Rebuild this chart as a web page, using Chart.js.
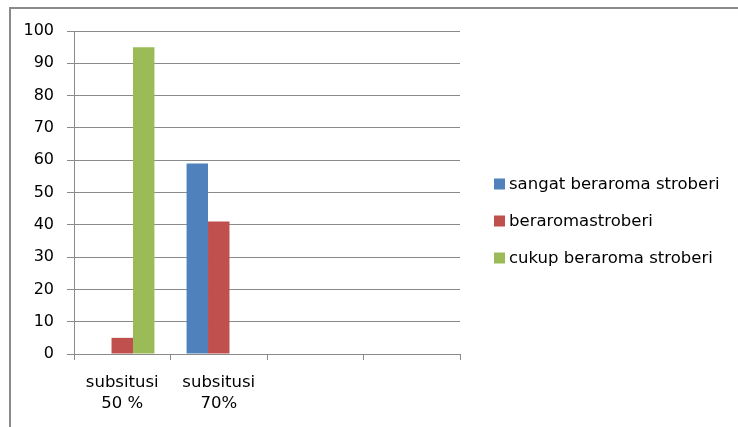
<!DOCTYPE html>
<html>
<head>
<meta charset="utf-8">
<script src="https://cdn.jsdelivr.net/npm/chart.js@4"></script>
<style>
  html, body { margin: 0; padding: 0; background: #fff; }
  #wrap { position: relative; width: 738px; height: 427px; overflow: hidden; }
  #frame { position: absolute; left: 9px; top: 7px; width: 740px; height: 430px;
           border-left: 2px solid #8a8a8a; border-top: 2px solid #8a8a8a; }
  canvas { position: absolute; left: 0; top: 0; }
</style>
</head>
<body>
<div id="wrap">
  <canvas id="c" width="738" height="427"></canvas>
  <div id="frame"></div>
</div>
<script>
// Categories on the x axis (two are intentionally blank)
const categories = [['subsitusi', '50 %'], ['subsitusi', '70%'], '', ''];

// Series values per category
const sangatBeraroma = [0, 59, null, null];
const beraromaStroberi = [5, 41, null, null];
const cukupBeraroma = [95, 0, null, null];

// Series names
const seriesNames = ['sangat beraroma stroberi', 'beraromastroberi', 'cukup beraroma stroberi'];
const seriesColors = ['#4f81bd', '#c0504d', '#9bbb59'];

const FONT = 'DejaVu Sans';

// Legend drawn beside the plot, one row per dataset
const sideLegend = {
  id: 'sideLegend',
  afterDraw(chart) {
    const ctx = chart.ctx;
    ctx.save();
    ctx.font = '16.5px "' + FONT + '"';
    ctx.textBaseline = 'middle';
    ctx.textAlign = 'left';
    const x = 494, y0 = 184, step = 37, box = 11;
    chart.data.datasets.forEach((ds, i) => {
      const y = y0 + i * step;
      ctx.fillStyle = ds.backgroundColor;
      ctx.fillRect(x, y - box / 2, box, box);
      ctx.fillStyle = '#000';
      ctx.fillText(ds.label, x + 15, y + 1);
    });
    ctx.restore();
  }
};

new Chart(document.getElementById('c'), {
  type: 'bar',
  data: {
    labels: categories,
    datasets: [
      { label: seriesNames[0], data: sangatBeraroma, backgroundColor: seriesColors[0] },
      { label: seriesNames[1], data: beraromaStroberi, backgroundColor: seriesColors[1] },
      { label: seriesNames[2], data: cukupBeraroma, backgroundColor: seriesColors[2] }
    ]
  },
  options: {
    responsive: false,
    animation: false,
    devicePixelRatio: 1,
    layout: { padding: { left: 0, right: 278, top: 31, bottom: 0 } },
    datasets: { bar: { categoryPercentage: 0.667, barPercentage: 1, borderWidth: 0 } },
    plugins: { legend: { display: false }, tooltip: { enabled: false } },
    scales: {
      x: {
        grid: { drawOnChartArea: false, drawTicks: true, tickLength: 6, color: '#8a8a8a', offset: true },
        border: { display: true, color: '#8a8a8a', width: 1 },
        ticks: { color: '#000', font: { family: FONT, size: 16.5, lineHeight: 1.3 }, padding: 12, maxRotation: 0, autoSkip: false },
        afterFit(s) { s.height = 73; }
      },
      y: {
        min: 0, max: 100,
        grid: { color: '#8a8a8a', lineWidth: 1, tickLength: 7 },
        border: { display: true, color: '#8a8a8a', width: 1 },
        ticks: { stepSize: 10, color: '#000', font: { family: FONT, size: 16 }, padding: 13 },
        afterFit(s) { s.width = 74; }
      }
    }
  },
  plugins: [sideLegend]
});
</script>
</body>
</html>
